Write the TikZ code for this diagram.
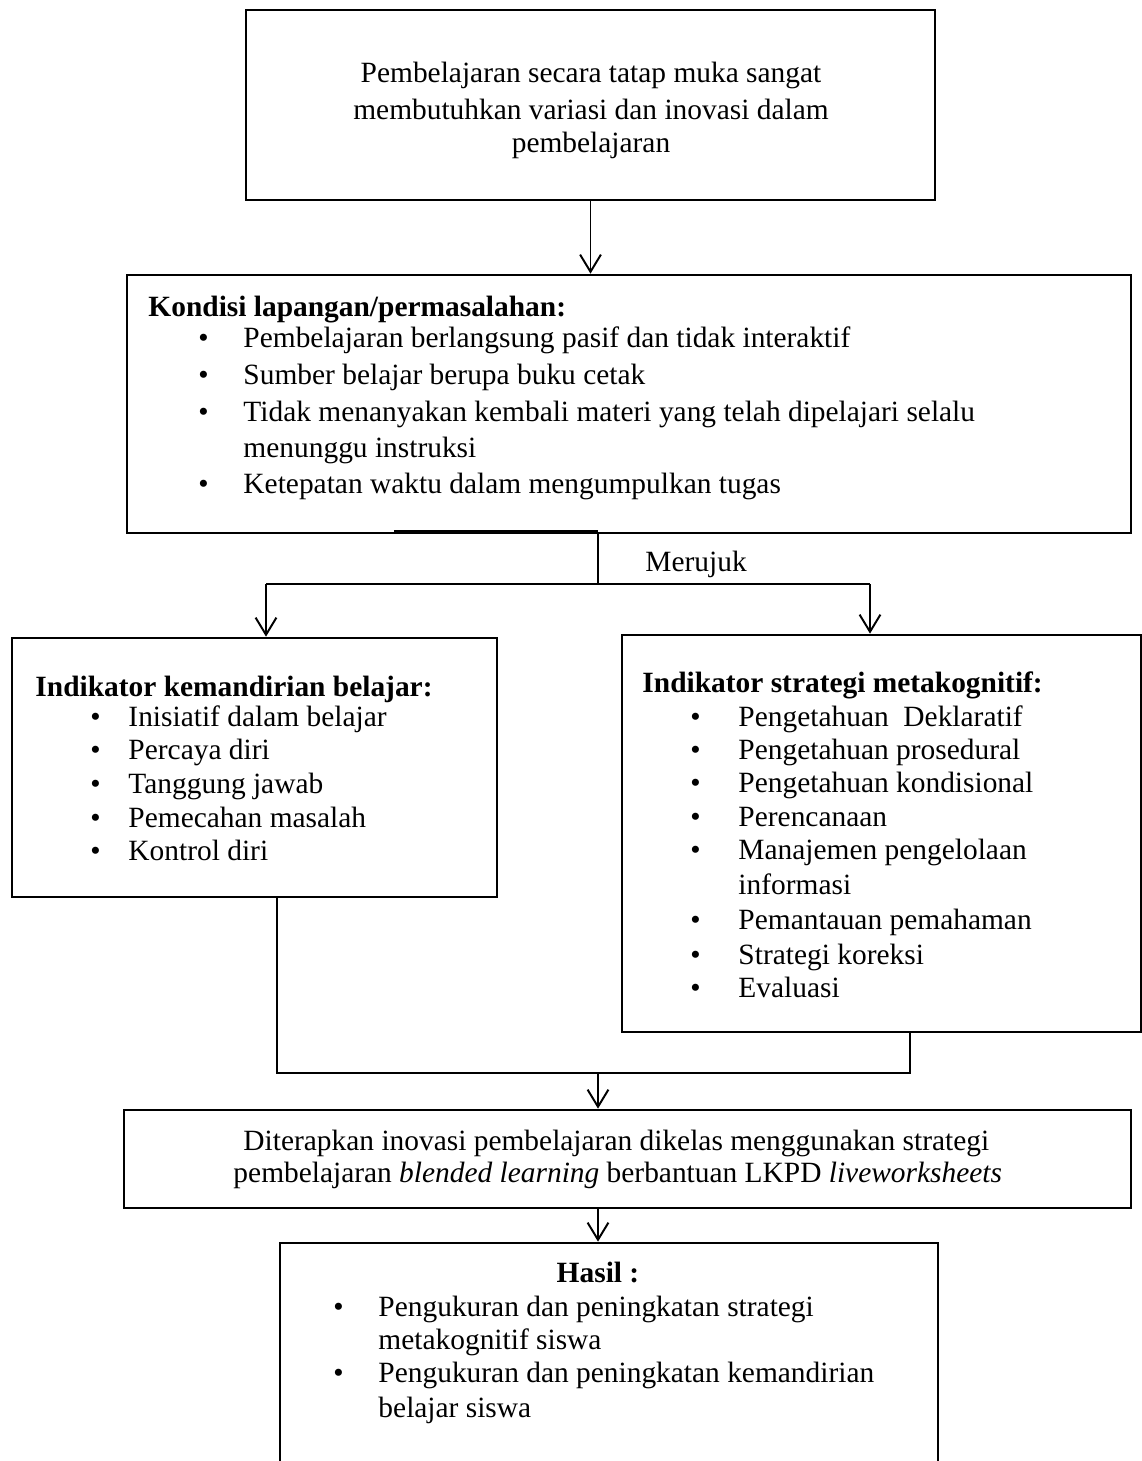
\documentclass[tikz,border=0pt]{standalone}
\usepackage{fontspec}
\setmainfont{Liberation Serif}
\usetikzlibrary{arrows.meta,fit}
\begin{document}
\begin{tikzpicture}[x=0.408pt,y=-0.408pt,
  box/.style={draw, line width=1.1pt, inner sep=0pt},
  conn/.style={line width=0.8pt},
  arr/.style={conn, -{Straight Barb[length=7pt,width=8.5pt,line width=0.8pt]}},
  txt/.style={anchor=base west, inner sep=0pt, font=\fontsize{12}{14}\selectfont},
  ctxt/.style={anchor=base, inner sep=0pt, font=\fontsize{12}{14}\selectfont},
  hd/.style={txt, font=\fontsize{12}{14}\selectfont\bfseries}
]
\useasboundingbox (0,0) rectangle (1142,1461);
\fill[white] (0,0) rectangle (1142,1461);

% boxes
\node[box, fit={(246,10) (935,200)}] (b1) {};
\node[box, fit={(127,275) (1131,533)}] (b2) {};
\node[box, fit={(12,638) (497,897)}] (b3) {};
\node[box, fit={(622,635) (1141,1032)}] (b4) {};
\node[box, fit={(124,1110) (1131,1208)}] (b5) {};
\node[box, fit={(280,1243) (938,1480)}] (b6) {};

% box 1 text
\node[ctxt] (a1) at (591,82) {Pembelajaran secara tatap muka sangat};
\node[ctxt] (a2) at (591,119) {membutuhkan variasi dan inovasi dalam};
\node[ctxt] (a3) at (591,152) {pembelajaran};

% box 2 text
\node[hd] (k0) at (148,316) {Kondisi lapangan/permasalahan:};
\node[txt] (kb1) at (198,347) {\textbullet};
\node[txt] (k1) at (243,347) {Pembelajaran berlangsung pasif dan tidak interaktif};
\node[txt] (kb2) at (198,384) {\textbullet};
\node[txt] (k2) at (243,384) {Sumber belajar berupa buku cetak};
\node[txt] (kb3) at (198,421) {\textbullet};
\node[txt] (k3) at (243,421) {Tidak menanyakan kembali materi yang telah dipelajari selalu};
\node[txt] (k3b) at (243,457) {menunggu instruksi};
\node[txt] (kb4) at (198,493) {\textbullet};
\node[txt] (k4) at (243,493) {Ketepatan waktu dalam mengumpulkan tugas};

% box 3 text
\node[hd] (l0) at (35,696) {Indikator kemandirian belajar:};
\node[txt] (lb1) at (90,726) {\textbullet};
\node[txt] (l1) at (128,726) {Inisiatif dalam belajar};
\node[txt] (lb2) at (90,759) {\textbullet};
\node[txt] (l2) at (128,759) {Percaya diri};
\node[txt] (lb3) at (90,793) {\textbullet};
\node[txt] (l3) at (128,793) {Tanggung jawab};
\node[txt] (lb4) at (90,827) {\textbullet};
\node[txt] (l4) at (128,827) {Pemecahan masalah};
\node[txt] (lb5) at (90,860) {\textbullet};
\node[txt] (l5) at (128,860) {Kontrol diri};

% box 4 text
\node[hd] (r0) at (642,692) {Indikator strategi metakognitif:};
\node[txt] (rb1) at (690,726) {\textbullet};
\node[txt] (r1) at (738,726) {Pengetahuan\hspace{0.5em}Deklaratif};
\node[txt] (rb2) at (690,759) {\textbullet};
\node[txt] (r2) at (738,759) {Pengetahuan prosedural};
\node[txt] (rb3) at (690,792) {\textbullet};
\node[txt] (r3) at (738,792) {Pengetahuan kondisional};
\node[txt] (rb4) at (690,826) {\textbullet};
\node[txt] (r4) at (738,826) {Perencanaan};
\node[txt] (rb5) at (690,859) {\textbullet};
\node[txt] (r5) at (738,859) {Manajemen pengelolaan};
\node[txt] (r5b) at (738,894) {informasi};
\node[txt] (rb6) at (690,929) {\textbullet};
\node[txt] (r6) at (738,929) {Pemantauan pemahaman};
\node[txt] (rb7) at (690,964) {\textbullet};
\node[txt] (r7) at (738,964) {Strategi koreksi};
\node[txt] (rb8) at (690,997) {\textbullet};
\node[txt] (r8) at (738,997) {Evaluasi};

% box 5 text
\node[txt] (d1) at (243,1150) {Diterapkan inovasi pembelajaran dikelas menggunakan strategi};
\node[txt] (d2) at (233,1182) {pembelajaran \textit{blended learning} berbantuan LKPD \textit{liveworksheets}};

% box 6 text
\node[ctxt, font=\fontsize{12}{14}\selectfont\bfseries] (h0) at (598,1282) {Hasil :};
\node[txt] (hb1) at (333,1316) {\textbullet};
\node[txt] (h1) at (378,1316) {Pengukuran dan peningkatan strategi};
\node[txt] (h1b) at (378,1349) {metakognitif siswa};
\node[txt] (hb2) at (333,1382) {\textbullet};
\node[txt] (h2) at (378,1382) {Pengukuran dan peningkatan kemandirian};
\node[txt] (h2b) at (378,1417) {belajar siswa};

% connectors
\draw[arr] (b1.south) -- (b1.south |- b2.north);
\draw[conn] (394,531) -- (598,531);
\coordinate (j1) at (598,584);
\coordinate (jl) at (266,584);
\coordinate (jr) at (870,584);
\draw[conn] (j1 |- b2.south) -- (j1);
\draw[conn] (jl) -- (jr);
\draw[arr] (jl) -- (jl |- b3.north);
\draw[arr] (jr) -- (jr |- b4.north);
\node[txt] (mer) at (645,571) {Merujuk};

\coordinate (m1) at (277,1073);
\coordinate (m2) at (910,1073);
\coordinate (m0) at (598,1073);
\draw[conn] (m1 |- b3.south) -- (m1) -- (m2) -- (m2 |- b4.south);
\draw[arr] (m0) -- (m0 |- b5.north);
\draw[arr] (m0 |- b5.south) -- (m0 |- b6.north);
\end{tikzpicture}
\end{document}
